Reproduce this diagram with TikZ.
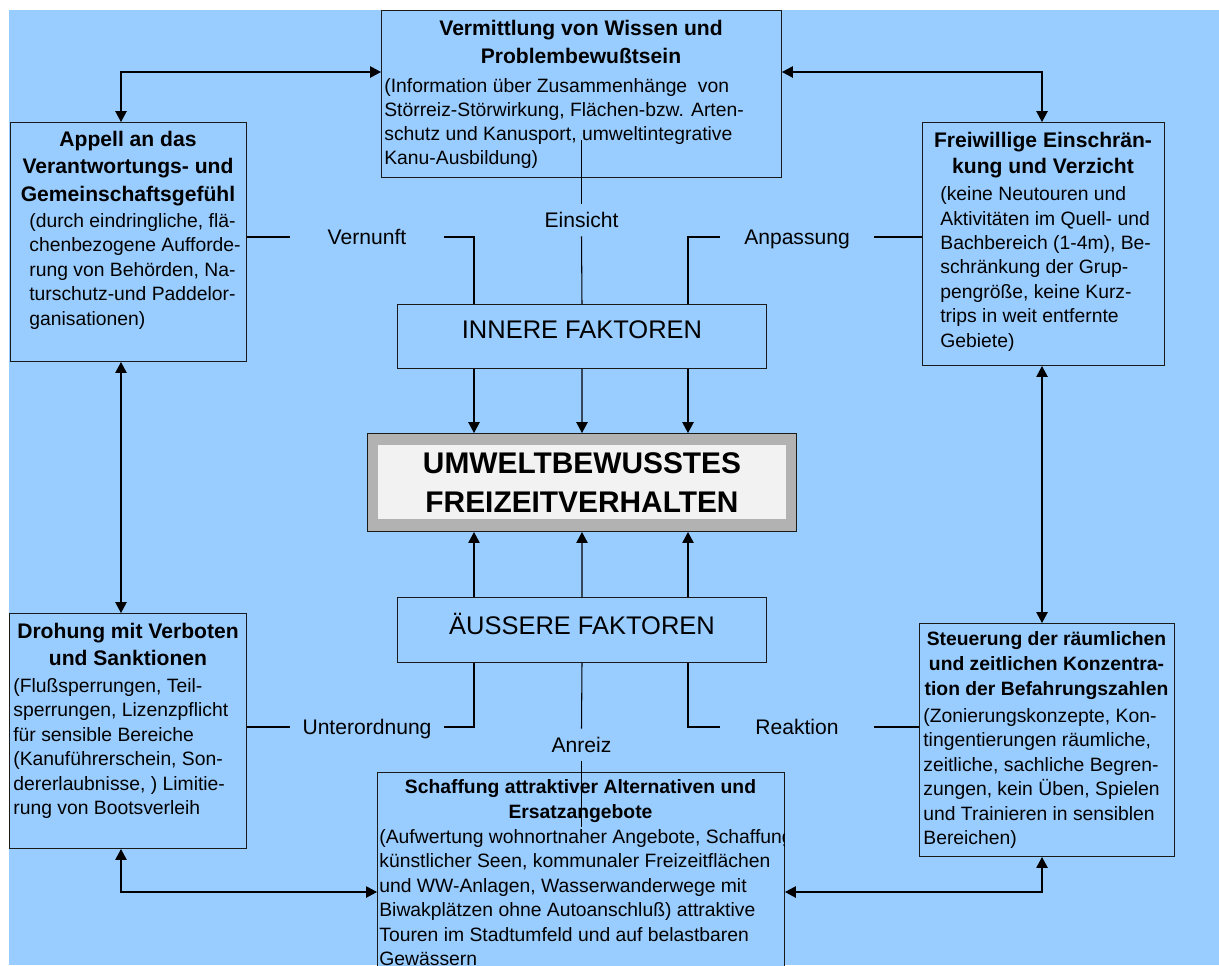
\documentclass[tikz,border=0pt]{standalone}
\usepackage{fontspec}
\setmainfont{Liberation Sans}
\usetikzlibrary{arrows.meta}
\definecolor{bg}{HTML}{99CCFF}
\definecolor{framegray}{HTML}{B2B2B2}
\definecolor{innergray}{HTML}{F2F2F2}
\definecolor{edge}{HTML}{1A1A1A}
\tikzset{
  box/.style={draw=edge, line width=0.6pt, fill=bg, inner sep=0pt, anchor=north west},
  ttl/.style={font=\bfseries\fontsize{12}{15.4}\selectfont, align=center, inner sep=0pt, anchor=base},
  ttls/.style={font=\bfseries\fontsize{11}{14.2}\selectfont, align=center, inner sep=0pt, anchor=base},
  bdy/.style={font=\fontsize{11}{13.9}\selectfont, align=left, inner sep=0pt, anchor=base west},
  lbl/.style={font=\fontsize{12}{14}\selectfont, minimum width=3.08cm, minimum height=0.64cm,
              inner sep=0pt, text height=8.6pt, text depth=0pt},
  fakt/.style={font=\fontsize{14.5}{17}\selectfont, inner sep=0pt},
  con/.style={line width=0.6pt, draw=black},
  arr/.style={con, -{Triangle[length=6.2pt,width=6.5pt]}},
  dbl/.style={con, {Triangle[length=6.2pt,width=6.5pt]}-{Triangle[length=6.2pt,width=6.5pt]}},
}
\begin{document}
\begin{tikzpicture}[x=0.02cm, y=-0.02cm]
\useasboundingbox (0,0) rectangle (1219,965);
\clip (0,0) rectangle (1219,965);
\fill[white] (0,0) rectangle (1219,965);
\fill[bg] (9,10) rectangle (1219,965);

% helper coordinates
\coordinate (colLL) at (121,0);
\coordinate (colRR) at (1042,0);
\coordinate (colL) at (474,0);
\coordinate (colR) at (688,0);
\coordinate (rowT) at (0,72);
\coordinate (rowB) at (0,892);
\coordinate (eTop) at (581.5,140);
\coordinate (aBot) at (581.5,827);

% boxes
\node[box, minimum width=8.00cm, minimum height=3.34cm] (top) at (381,10) {};
\node[box, minimum width=4.72cm, minimum height=4.78cm] (appell) at (10,122) {};
\node[box, minimum width=4.84cm, minimum height=4.86cm] (frei) at (922,122) {};
\node[box, minimum width=4.74cm, minimum height=4.70cm] (droh) at (9,613) {};
\node[box, minimum width=5.10cm, minimum height=4.66cm] (steu) at (919,623) {};
\node[box, minimum width=8.14cm, minimum height=5.00cm] (schaff) at (377,772) {};
\node[box, minimum width=7.38cm, minimum height=1.28cm] (inner) at (397,304) {};
\node[box, minimum width=7.38cm, minimum height=1.30cm] (aeus) at (397,597) {};

% central box
\node[box, fill=framegray, minimum width=8.58cm, minimum height=1.96cm] (ctr) at (367,433) {};
\node[anchor=north west, fill=innergray, inner sep=0pt, minimum width=8.16cm, minimum height=1.48cm] (ctrIn) at (378,445) {};
\node[font=\bfseries\fontsize{17}{21.7}\selectfont, align=center, inner sep=0pt] (ctrT) at (ctr.center)
  {UMWELTBEWUSSTES\\FREIZEITVERHALTEN};

% factor texts
\node[fakt, yshift=0.13cm] (innerT) at (inner.center) {INNERE FAKTOREN};
\node[fakt, yshift=0.13cm] (aeusT) at (aeus.center) {ÄUSSERE FAKTOREN};

% box texts (anchor = baseline of the LAST line)
\node[ttl, font=\bfseries\fontsize{12}{16}\selectfont] (topT) at (581,63.2) {Vermittlung von Wissen und\\Problembewußtsein};
\node[bdy, font=\fontsize{11}{13.6}\selectfont] (topB) at (384,164.5)
  {(Information über Zusammenhänge~ von\\Störreiz-Störwirkung, Flächen-bzw. Arten-\\schutz und Kanusport, umweltintegrative\\Kanu-Ausbildung)};

\node[ttl, font=\bfseries\fontsize{12}{15.6}\selectfont] (appT) at (128,201) {Appell an das\\Verantwortungs- und\\Gemeinschaftsgefühl};
\node[bdy] (appB) at (29,325.1)
  {(durch eindringliche, flä-\\chenbezogene Aufforde-\\rung von Behörden, Na-\\turschutz-und Paddelor-\\ganisationen)};

\node[ttl, font=\bfseries\fontsize{12}{15.1}\selectfont] (freiT) at (1043,173.6) {Freiwillige Einschrän-\\kung und Verzicht};
\node[bdy] (freiB) at (940,347.1)
  {(keine Neutouren und\\Aktivitäten im Quell- und\\Bachbereich (1-4m), Be-\\schränkung der Grup-\\pengröße, keine Kurz-\\trips in weit entfernte\\Gebiete)};

\node[ttl, font=\bfseries\fontsize{12}{15.3}\selectfont] (drohT) at (128,665) {Drohung mit Verboten\\und Sanktionen};
\node[bdy] (drohB) at (13,814.6)
  {(Flußsperrungen, Teil-\\sperrungen, Lizenzpflicht\\für sensible Bereiche\\(Kanuführerschein, Son-\\dererlaubnisse, ) Limitie-\\rung von Bootsverleih};

\node[ttls] (steuT) at (1046.5,695.1) {Steuerung der räumlichen\\und zeitlichen Konzentra-\\tion der Befahrungszahlen};
\node[bdy] (steuB) at (923,844.6)
  {(Zonierungskonzepte, Kon-\\tingentierungen räumliche,\\zeitliche, sachliche Begren-\\zungen, kein Üben, Spielen\\und Trainieren in sensiblen\\Bereichen)};

\node[ttls] (schaffT) at (580.5,818) {Schaffung attraktiver Alternativen und\\Ersatzangebote};
\begin{scope}
\clip (schaff.north west) rectangle (schaff.south east);
\node[bdy] (schaffB) at (379,965.6)
  {(Aufwertung wohnortnaher Angebote, Schaffung\\künstlicher Seen, kommunaler Freizeitflächen\\und WW-Anlagen, Wasserwanderwege mit\\Biwakplätzen ohne Autoanschluß) attraktive\\Touren im Stadtumfeld und auf belastbaren\\Gewässern};
\end{scope}

% labels
\node[lbl] (vern) at (367,237) {Vernunft};
\node[lbl] (eins) at (581.5,220) {Einsicht};
\node[lbl] (anp) at (797,237) {Anpassung};
\node[lbl] (unter) at (367,727) {Unterordnung};
\node[lbl] (anr) at (581.5,745) {Anreiz};
\node[lbl] (reak) at (797,727) {Reaktion};

% connectors, upper part
\draw[con] (appell.east |- vern.west) -- (vern.west);
\draw[con] (vern.east) -| (inner.north -| colL);
\draw[con] (eTop) -- (eins.north);
\draw[con] (eins.south) -- (inner.north);
\draw[con] (anp.west) -| (inner.north -| colR);
\draw[con] (anp.east) -- (frei.west |- anp.east);
\draw[arr] (inner.south -| colL) -- (ctr.north -| colL);
\draw[arr] (inner.south) -- (ctr.north);
\draw[arr] (inner.south -| colR) -- (ctr.north -| colR);

% connectors, lower part
\draw[arr] (aeus.north -| colL) -- (ctr.south -| colL);
\draw[arr] (aeus.north) -- (ctr.south);
\draw[arr] (aeus.north -| colR) -- (ctr.south -| colR);
\draw[con] (aeus.south -| colL) |- (unter.east);
\draw[con] (unter.west) -- (droh.east |- unter.west);
\draw[con] (aeus.south) -- (anr.north);
\draw[con] (anr.south) -- (aBot);
\draw[con] (aeus.south -| colR) |- (reak.west);
\draw[con] (reak.east) -- (steu.west |- reak.east);

% outer double arrows
\draw[dbl] (appell.north -| colLL) |- (top.west |- rowT);
\draw[dbl] (top.east |- rowT) -| (frei.north -| colRR);
\draw[dbl] (appell.south -| colLL) -- (droh.north -| colLL);
\draw[dbl] (frei.south -| colRR) -- (steu.north -| colRR);
\draw[dbl] (droh.south -| colLL) |- (schaff.west |- rowB);
\draw[dbl] (steu.south -| colRR) |- (schaff.east |- rowB);
\end{tikzpicture}
\end{document}
